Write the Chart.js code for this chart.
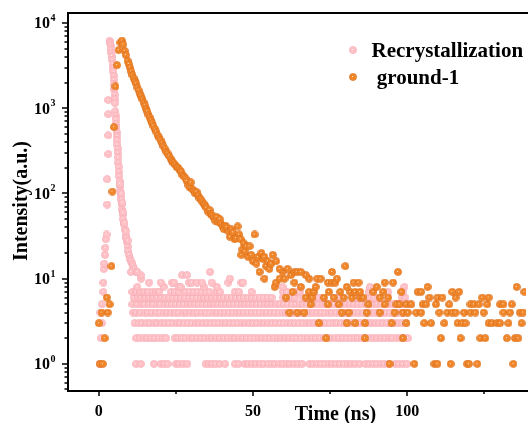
<!DOCTYPE html>
<html>
<head>
<meta charset="utf-8">
<script src="https://cdn.jsdelivr.net/npm/chart.js@4/dist/chart.umd.min.js"></script>
<style>
  html, body { margin: 0; padding: 0; background: #fff; overflow: hidden; }
</style>
</head>
<body>
<canvas id="decay-chart" width="531" height="423"></canvas>
<script>
// Axis ticks
const xTickValues = [0, 50, 100];
const xTickLabels = ['0', '50', '100'];
const xMinorTicks = [25, 75, 125];
const yTickValues = [1, 10, 100, 1000, 10000];
const yTickExponents = ['0', '1', '2', '3', '4'];

const seriesNames = ['Recrystallization', ' ground-1'];

// Recrystallization: rise + fast decay [time ns, counts]
const recrystPeak = [
  [0.4,1],[0.7,2],[1.0,3],[0.5,4],[1.0,5],[1.5,7],[1.5,9],[1.6,13],[1.8,15],[2.0,19],[2.1,23],[2.3,29],[2.5,33],
  [2.7,74],[2.7,147],[3.1,290],[3.1,480],[3.1,850],[3.1,1250],[3.5,6200],[3.6,5800],[3.85,5400],[4.0,4900],
  [4.1,4500],[4.25,4100],[4.4,3700],[4.5,3300],[4.6,3000],[4.7,2700],[4.8,2400],[4.9,2150],[4.95,1900],
  [5.05,1650],[5.1,1450],[5.2,1280],[5.25,1150],[5.35,920],[5.45,820],[5.55,740],[5.65,660],[5.7,590],
  [5.8,520],[5.85,470],[5.95,420],[6.0,375],[6.1,335],[6.2,300],[6.25,265],[6.3,230],[6.4,205],[6.5,180],
  [6.6,160],[6.7,140],[6.85,122],[7.0,107],[7.1,94],[7.2,85],[7.35,75],[7.5,65],[7.7,57],[7.9,50],[8.1,44],
  [8.4,38],[8.7,32],[8.9,30],[9.1,27],[9.3,24],[9.5,21],[9.8,19],[10.2,17],[10.5,16],[10.9,15],[11.1,14],
  [11.4,13],[12.0,12],[6.9,130],[7.3,100],[7.6,78],[7.9,60],[8.3,45],[8.8,36],[9.4,28]
];
// Recrystallization tail, one list of times per count level
const recrystLevel1 = [12.1,13.6,17.9,20.1,21.2,22.3,25.0,26.1,27.4,28.7,34.6,35.7,36.8,37.9,39.2,40.9,44.1,45.3,47.3,48.5,49.8,51.0,52.3,53.4,54.8,56.0,57.1,58.5,59.7,61.0,62.1,63.4,64.6,65.9,68.3,69.5,70.8,72.0,73.2,74.5,75.7,77.0,78.2,79.5,80.7,81.9,83.2,84.6,86.4,87.6,88.9,90.1,91.4,92.6,93.9,96.1,97.3,98.6,99.9];
const recrystLevel2 = [12.1,13.2,14.6,15.7,17.0,18.1,19.4,20.7,21.8,24.6,25.7,27.0,28.1,29.5,30.6,31.9,33.2,34.3,35.7,36.8,38.1,39.3,40.6,41.8,43.1,44.2,45.6,46.8,48.0,49.3,50.5,51.8,53.0,54.3,55.4,56.8,58.0,59.2,60.5,61.7,63.0,64.1,65.5,66.7,67.9,69.2,70.4,71.7,72.9,74.2,75.3,76.7,77.9,79.1,80.4,81.6,82.9,84.0,85.4,86.6,87.8,89.1,90.3,91.6,92.8,94.1,95.2,96.6,97.8,99.0,100.2];
const recrystLevel3 = [11.6,12.9,14.0,15.4,16.5,17.9,18.9,20.3,21.5,22.7,23.9,25.3,26.4,27.7,28.9,30.1,31.5,32.6,33.9,35.1,36.4,37.6,38.8,40.1,41.3,42.6,43.8,45.0,46.3,47.5,48.8,50.0,51.2,52.5,53.7,55.0,56.2,57.4,58.7,59.9,61.2,62.4,63.6,64.9,66.1,67.4,68.6,69.8,71.0,72.4,73.5,74.8,76.1,77.2,78.5,79.8,81.0,82.2,83.5,84.7,85.9,87.2,88.4,89.7,90.9,92.1,93.4,94.6,95.9,97.1,98.3,99.6];
const recrystLevel4 = [11.1,12.2,13.5,14.9,16.0,17.2,18.6,19.7,21.0,22.2,23.5,24.8,25.9,27.3,28.4,29.7,31.0,32.1,33.5,34.7,35.9,37.2,38.4,39.7,40.9,42.2,43.4,44.7,45.9,47.1,48.4,49.6,50.9,52.1,53.4,54.6,55.8,57.1,58.3,59.6,60.8,62.1,63.3,64.5,65.8,67.0,68.3,69.5,70.8,72.0,73.2,74.5,75.7,77.0,78.2,79.5,80.7,81.9,83.2,84.4,85.7,86.9,88.2,89.4,90.6,91.9,93.1,94.4,95.6,96.9,98.1,99.3];
const recrystLevel5 = [10.9,12.4,13.7,14.8,16.2,17.5,18.7,19.9,21.3,22.5,23.7,25.0,26.3,27.5,28.8,30.0,31.3,32.5,33.8,35.0,36.3,37.5,38.7,40.0,41.2,42.5,43.7,45.0,46.3,47.5,48.8,50.0,51.3,52.5,53.8,55.0,56.3,57.6,58.8,60.1,61.3,62.6,63.8,65.1,66.3,67.6,68.8,70.1,71.3,72.6,73.8,75.1,76.3,77.6,78.8,80.2,81.4,82.7,84.0,85.2,86.5,87.8,89.0,90.3,91.6,92.9,94.1,95.4,96.6,97.9,99.2,100.5];
const recrystLevel6 = [11.3,12.6,13.8,15.1,16.4,17.7,18.9,20.2,21.5,22.8,24.0,25.3,26.6,27.9,29.1,30.4,31.7,33.0,34.2,35.5,36.8,38.1,39.4,40.6,41.9,43.2,44.5,45.8,47.0,48.3,49.6,50.9,52.2,53.4,54.7,56.0,59.8,61.0,62.3,63.6,66.2,67.5,70.0,71.3,72.6,76.4,77.7,83.5,87.9,89.1,91.0,98.2,99.4];
const recrystLevel7 = [10.9,12.2,13.5,14.8,16.1,17.4,18.6,19.6,23.4,24.7,25.9,28.1,29.4,30.7,32.0,33.3,34.6,35.9,38.2,39.3,44.1,45.4,49.5,59.7,61.0,64.0,65.1,87.5,88.8,93.8,98.6];
const recrystLevel8 = [12.5,21.1,26.0,26.5,34.0,38.3,59.6,87.9,99.1];
const recrystLevel9 = [16.3,20.1,23.8,24.4,29.2,30.2,31.8,33.4,36.6,42.0,46.2,46.8];
const recrystLevel10 = [13.7,42.5];
const recrystLevel11 = [13.6,27.0,28.6];
const recrystLevel12 = [10.4,12.5,36.1];

// ground-1: rise + slower decay [time ns, counts]
const groundDecay = [
  [0.0,3],[0.3,1],[0.9,4],[1.3,1],[1.9,2],[2.6,6],[2.9,4],[3.5,5],[4.1,14],[4.4,105],[4.9,600],[5.4,1800],
  [5.9,3200],[6.4,4800],[7.0,5900],[7.5,6200],[7.9,5600],[8.4,4700],[8.8,4200],[9.3,3600],[9.7,3300],
  [10.1,3000],[10.5,2700],[10.9,2450],[11.3,2250],[11.7,2100],[12.1,1950],[12.5,1750],[12.9,1620],
  [13.3,1480],[13.7,1380],[14.1,1280],[14.5,1170],[14.9,1080],[15.3,990],[15.7,920],[16.1,840],[16.5,780],
  [16.9,720],[17.3,670],[17.7,620],[18.2,570],[18.6,530],[19.1,480],[19.6,450],[20.0,420],[20.5,390],
  [20.9,360],[21.4,335],[21.8,310],[22.3,295],[22.8,275],[23.3,255],[23.7,240],[24.2,228],[24.7,218],
  [25.2,205],[25.7,200],[26.2,188],[26.7,180],[27.1,165],[27.6,158],[28.1,150],[28.5,140],[29.0,125],
  [29.4,118],[29.8,135],[30.3,112],[30.8,108],[31.2,100],[31.7,104],[32.2,95],[32.6,88],[33.1,85],[33.5,80],
  [34.0,76],[34.5,72],[34.9,68],[35.4,61],[35.9,64],[36.3,57],[36.8,55],[37.3,52],[37.7,48],[38.2,53],
  [38.7,46],[39.2,50],[39.6,44],[40.1,41],[40.6,38],[41.0,42],[41.5,40],[42.0,36],[42.5,31],[43.0,38],
  [43.5,35],[44.0,29],[44.5,30],[45.0,41],[45.5,33],[46.0,29],[46.2,19],[46.5,22],[47.0,26],[47.3,21],
  [47.8,24],[48.4,18],[48.9,24],[49.4,19],[50.0,16],[50.5,33],[51.1,15],[51.6,18],[52.7,20],[53.2,17],
  [53.7,18],[54.2,14],[54.8,16],[55.3,13],[55.9,15],[56.4,19],[57.5,16]
];
// ground-1 tail, one list of times per count level
const groundLevel1 = [94.3,102.3,108.8,109.8,114.1,119.4,120.0,122.7,134.4];
const groundLevel2 = [73.7,86.3,98.6,110.9,117.3,123.7,125.3,132.3,134.9,136.0];
const groundLevel3 = [71.4,80.4,83.1,86.3,94.9,99.7,105.5,107.7,112.0,116.3,117.8,118.9,126.4,127.5,129.1,130.1,132.8,137.1];
const groundLevel4 = [61.8,64.4,66.6,78.8,81.0,86.9,91.1,95.9,98.6,100.2,102.9,104.5,110.4,113.0,114.6,115.7,118.4,120.5,122.1,124.8,131.2,133.3,136.5,137.6];
const groundLevel5 = [68.7,74.3,77.8,87.4,92.7,96.5,97.5,99.7,101.3,105.0,106.1,109.3,113.6,120.5,121.6,123.2,125.9,130.1,131.2,133.9];
const groundLevel6 = [60.7,67.1,69.2,73.0,76.2,79.4,82.1,84.7,85.8,91.1,93.8,107.2,109.8,111.4,115.7,124.3,126.4];
const groundLevel7 = [62.8,68.2,69.8,74.6,78.3,81.5,83.1,84.7,89.0,92.2,98.1,103.4,104.5,114.6,116.8,138.0];
const groundLevel8 = [57.0,65.5,70.3,80.4,90.1,106.6,135.5];
const groundLevel9 = [57.5,63.4,74.3,75.6,76.7,82.6,84.2,92.7,95.4];
const groundLevel10 = [53.7,58.6,60.2,68.2,70.8,71.9,77.2];
const groundLevel11 = [62.3,67.1];
const groundLevel12 = [52.1,59.6,63.4,64.4,65.5,75.6,97.0];
const groundLevel13 = [58.6,61.2];
const groundLevel14 = [79.9];

const recrystLevels = [[1,recrystLevel1],[2,recrystLevel2],[3,recrystLevel3],[4,recrystLevel4],[5,recrystLevel5],[6,recrystLevel6],
  [7,recrystLevel7],[8,recrystLevel8],[9,recrystLevel9],[10,recrystLevel10],[11,recrystLevel11],[12,recrystLevel12]];
const groundLevels = [[1,groundLevel1],[2,groundLevel2],[3,groundLevel3],[4,groundLevel4],[5,groundLevel5],[6,groundLevel6],[7,groundLevel7],
  [8,groundLevel8],[9,groundLevel9],[10,groundLevel10],[11,groundLevel11],[12,groundLevel12],[13,groundLevel13],[14,groundLevel14]];

function toPoints(pairs, levels) {
  const pts = pairs.map(p => ({x: p[0], y: p[1]}));
  levels.forEach(([lvl, xs]) => xs.forEach(x => pts.push({x: x, y: lvl})));
  return pts;
}

// small shaded balls with a tiny highlight
function makeBall(fill, edge) {
  const c = document.createElement('canvas');
  c.width = 8; c.height = 8;
  const g = c.getContext('2d');
  g.fillStyle = edge;
  g.beginPath();
  g.arc(4, 4, 3.8, 0, Math.PI * 2);
  g.fill();
  const grad = g.createRadialGradient(3.6, 3.6, 0, 4, 4, 3.6);
  grad.addColorStop(0, '#ffffff');
  grad.addColorStop(0.22, fill);
  grad.addColorStop(1, fill);
  g.fillStyle = grad;
  g.beginPath();
  g.arc(4, 4, 3.2, 0, Math.PI * 2);
  g.fill();
  return c;
}
const pinkBall = makeBall('#ffc0c6', '#f4aab3');
const orangeBall = makeBall('#f0862a', '#dc6d18');

const SERIF = '"Liberation Serif", "Times New Roman", serif';

const axesPlugin = {
  id: 'axesPlugin',
  afterDraw(chart) {
    const {ctx, chartArea: a, scales} = chart;
    const xs = scales.x, ys = scales.y;
    ctx.save();
    ctx.strokeStyle = '#000';
    ctx.fillStyle = '#000';

    // frame (left, bottom, top)
    ctx.lineWidth = 2;
    ctx.beginPath();
    ctx.moveTo(a.right + 2, a.top);
    ctx.lineTo(a.left, a.top);
    ctx.lineTo(a.left, a.bottom);
    ctx.lineTo(a.right + 2, a.bottom);
    ctx.stroke();

    // x ticks
    ctx.lineWidth = 1.5;
    ctx.beginPath();
    xTickValues.forEach(v => {
      const px = Math.round(xs.getPixelForValue(v));
      ctx.moveTo(px, a.bottom); ctx.lineTo(px, a.bottom + 5);
    });
    xMinorTicks.forEach(v => {
      const px = Math.round(xs.getPixelForValue(v));
      ctx.moveTo(px, a.bottom); ctx.lineTo(px, a.bottom + 3);
    });
    // y ticks
    yTickValues.forEach(v => {
      const py = Math.round(ys.getPixelForValue(v));
      ctx.moveTo(a.left, py); ctx.lineTo(a.left - 6, py);
    });
    [0.1, 1, 10, 100, 1000].forEach(d => {
      for (let m = 2; m <= 9; m++) {
        const v = d * m;
        if (v < ys.min || v > ys.max) continue;
        const py = Math.round(ys.getPixelForValue(v));
        ctx.moveTo(a.left, py); ctx.lineTo(a.left - 3.5, py);
      }
    });
    ctx.stroke();

    // x tick labels
    ctx.font = 'bold 16px ' + SERIF;
    ctx.textAlign = 'center';
    ctx.textBaseline = 'alphabetic';
    xTickValues.forEach((v, i) => {
      ctx.fillText(xTickLabels[i], xs.getPixelForValue(v), a.bottom + 25);
    });

    // y tick labels: 10 with superscript
    yTickValues.forEach((v, i) => {
      const py = ys.getPixelForValue(v);
      ctx.font = 'bold 16px ' + SERIF;
      ctx.textAlign = 'right';
      ctx.fillText('10', 50, py + 5.5);
      ctx.font = 'bold 10px ' + SERIF;
      ctx.textAlign = 'left';
      ctx.fillText(yTickExponents[i], 50.5, py - 2);
    });

    // axis titles
    ctx.font = 'bold 20px ' + SERIF;
    ctx.textAlign = 'center';
    ctx.fillText('Time (ns)', 335.5, 420);
    ctx.save();
    ctx.translate(26.5, 201);
    ctx.rotate(-Math.PI / 2);
    ctx.fillText('Intensity(a.u.)', 0, 0);
    ctx.restore();

    // legend
    ctx.font = 'bold 21px ' + SERIF;
    ctx.textAlign = 'left';
    const balls = [pinkBall, orangeBall];
    seriesNames.forEach((name, i) => {
      const cy = 50 + i * 27;
      ctx.drawImage(balls[i], 353 - 4, cy - 4);
      ctx.fillText(name, 371.5, cy + 7.3);
    });
    ctx.restore();
  }
};

const chartCanvas = document.querySelector('#decay-chart');
const decayChart = new Chart(chartCanvas, {
  type: 'scatter',
  data: {
    datasets: [
      {
        label: seriesNames[0],
        data: toPoints(recrystPeak, recrystLevels),
        pointStyle: pinkBall,
        pointRadius: 4,
        order: 1
      },
      {
        label: seriesNames[1],
        data: toPoints(groundDecay, groundLevels),
        pointStyle: orangeBall,
        pointRadius: 4,
        order: 0
      }
    ]
  },
  options: {
    responsive: false,
    animation: false,
    layout: { padding: { left: 68, top: 13, right: 0, bottom: 32 } },
    plugins: {
      legend: { display: false },
      tooltip: { enabled: false }
    },
    scales: {
      x: { type: 'linear', min: -10, max: 138.5, display: false },
      y: { type: 'logarithmic', min: 0.48, max: 13100, display: false }
    }
  },
  plugins: [axesPlugin]
});
</script>
</body>
</html>
